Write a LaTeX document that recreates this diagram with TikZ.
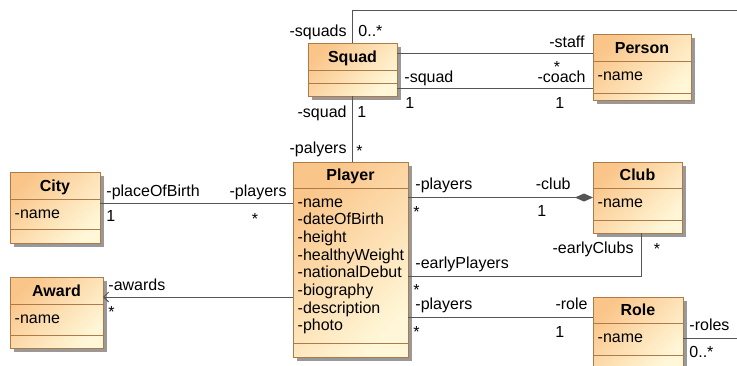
\documentclass[tikz,border=0pt]{standalone}
\usepackage{fontspec}
\setmainfont{Liberation Sans}
\usetikzlibrary{shadows, arrows.meta}

\definecolor{clsdark}{HTML}{FAC589}
\definecolor{clslight}{HTML}{FFF7D8}
\definecolor{clsedge}{HTML}{B07A48}
\definecolor{lnk}{HTML}{555555}

% class box: name, left, top, right, bottom, title rule, attribute rule, title, attributes
\newcommand{\umlclass}[9]{%
  \node[classbox, minimum width=#4pt-#2pt, minimum height=#5pt-#3pt]
    (#1) at ({(#2+#4)/2},{(#3+#5)/2}) {};
  \draw[clsedge, line width=0.8pt] (#1.west |- 0,#6) -- (#1.east |- 0,#6)
                                   (#1.west |- 0,#7) -- (#1.east |- 0,#7);
  \node[lbl, anchor=base] (#1-title) at ({(#2+#4)/2},{(#3+#6)/2+5.5}) {\textbf{#8}};
  \foreach \att [count=\k from 0] in {#9}
    \node[lbl, anchor=base west] (#1-a\k) at (#2+4.5, #6+19+\k*17.7) {\att};
}

\begin{document}
\begin{tikzpicture}[x=1pt, y=-1pt, font=\fontsize{16}{17.7}\selectfont]
  \tikzstyle{classbox}=[draw=clsedge, line width=0.8pt, top color=clsdark, bottom color=clslight,
    shading angle=45, inner sep=0pt, outer sep=0pt,
    drop shadow={shadow xshift=4pt, shadow yshift=-4pt, fill=black!40, opacity=1}]
  \tikzstyle{link}=[draw=lnk, line width=0.9pt]
  \tikzstyle{lbl}=[inner sep=0pt, text=black]

  \useasboundingbox[fill=white] (0,0) rectangle (737,365);

  \umlclass{squad}{308}{43}{397}{96}{70}{83}{Squad}{}
  \umlclass{person}{593}{34}{691}{100}{61}{93}{Person}{-name}
  \umlclass{city}{10}{172}{100}{243}{199}{229}{City}{-name}
  \umlclass{award}{10}{277}{103}{348}{304}{335}{Award}{-name}
  \umlclass{player}{293}{162}{408}{357}{188}{343}{Player}{-name,-dateOfBirth,-height,-healthyWeight,-nationalDebut,-biography,-description,-photo}
  \umlclass{club}{593}{162}{682}{233}{188}{220}{Club}{-name}
  \umlclass{role}{593}{297}{683}{368}{323}{355}{Role}{-name}

  % squad <-> role (runs out of the picture)
  \draw[link] (squad.north)
    node[lbl, anchor=base east, shift={(-5.5pt,7pt)}] (sqs) {-squads}
    node[lbl, anchor=base west, shift={(5.5pt,7pt)}] (sqsm) {0..*}
    |- (745,10) |- ([yshift=-5.5pt]role.east)
    node[lbl, pos=1, anchor=base west, shift={(6pt,8pt)}] (rls) {-roles}
    node[lbl, pos=1, anchor=base west, shift={(6pt,-19pt)}] (rlsm) {0..*};

  % squad <-> person
  \draw[link] ([yshift=16.5pt]squad.east) -- ([yshift=16.5pt]squad.east -| person.west)
    node[lbl, pos=1, anchor=base east, shift={(-8pt,6pt)}] (stf) {-staff}
    node[lbl, pos=1, anchor=base, shift={(-36pt,-19pt)}] (stfm) {*};
  \draw[link] ([yshift=-18.5pt]squad.east) -- ([yshift=-18.5pt]squad.east -| person.west)
    node[lbl, pos=0, anchor=base west, shift={(7pt,6pt)}] (sq1) {-squad}
    node[lbl, pos=0, anchor=base west, shift={(8pt,-20pt)}] (sq1m) {1}
    node[lbl, pos=1, anchor=base east, shift={(-7pt,6pt)}] (cch) {-coach}
    node[lbl, pos=1, anchor=base west, shift={(-38pt,-20pt)}] (cchm) {1};

  % squad <-> player
  \draw[link] (squad.south) -- (squad.south |- player.north)
    node[lbl, pos=0, anchor=base east, shift={(-5.5pt,-21pt)}] (sq2) {-squad}
    node[lbl, pos=0, anchor=base west, shift={(4.5pt,-21pt)}] (sq2m) {1}
    node[lbl, pos=1, anchor=base east, shift={(-5.5pt,9pt)}] (ply) {-palyers}
    node[lbl, pos=1, anchor=base west, shift={(3.5pt,6pt)}] (plym) {*};

  % city <-> player
  \draw[link] ([yshift=4.5pt]city.east) -- ([yshift=4.5pt]city.east -| player.west)
    node[lbl, pos=0, anchor=base west, shift={(6pt,7pt)}] (pob) {-placeOfBirth}
    node[lbl, pos=0, anchor=base west, shift={(6pt,-18pt)}] (pobm) {1}
    node[lbl, pos=1, anchor=base east, shift={(-6pt,7pt)}] (cpl) {-players}
    node[lbl, pos=1, anchor=base, shift={(-38pt,-21pt)}] (cplm) {*};

  % player -> award
  \draw[link, -{Straight Barb[length=5pt, width=10pt]}]
    ([yshift=-37.5pt]player.west) -- ([yshift=-37.5pt]player.west -| award.east)
    node[lbl, pos=1, anchor=base west, shift={(5pt,7pt)}] (awd) {-awards}
    node[lbl, pos=1, anchor=base west, shift={(5pt,-20pt)}] (awdm) {*};

  % player <-> club
  \draw[link, -{Diamond[length=18pt, width=8pt]}] (player.east |- club.west) -- (club.west)
    node[lbl, pos=0, anchor=base west, shift={(7pt,8pt)}] (kpl) {-players}
    node[lbl, pos=0, anchor=base west, shift={(5pt,-20pt)}] (kplm) {*}
    node[lbl, pos=1, anchor=base east, shift={(-22pt,8pt)}] (clb) {-club}
    node[lbl, pos=1, anchor=base west, shift={(-56pt,-19pt)}] (clbm) {1};

  % club <-> player (early)
  \draw[link] ([xshift=3.5pt]club.south) |- ([yshift=-16.5pt]player.east)
    node[lbl, pos=0, anchor=base east, shift={(-7pt,-20pt)}] (ecl) {-earlyClubs}
    node[lbl, pos=0, anchor=base, shift={(16pt,-21pt)}] (eclm) {*}
    node[lbl, pos=1, anchor=base west, shift={(7pt,8pt)}] (epl) {-earlyPlayers}
    node[lbl, pos=1, anchor=base west, shift={(5pt,-19pt)}] (eplm) {*};

  % player <-> role
  \draw[link] ([yshift=-57.5pt]player.east) -- ([yshift=-57.5pt]player.east -| role.west)
    node[lbl, pos=0, anchor=base west, shift={(7pt,8pt)}] (rpl) {-players}
    node[lbl, pos=0, anchor=base west, shift={(5pt,-20pt)}] (rplm) {*}
    node[lbl, pos=1, anchor=base east, shift={(-5pt,8pt)}] (rol) {-role}
    node[lbl, pos=1, anchor=base west, shift={(-38pt,-20pt)}] (rolm) {1};
\end{tikzpicture}
\end{document}
